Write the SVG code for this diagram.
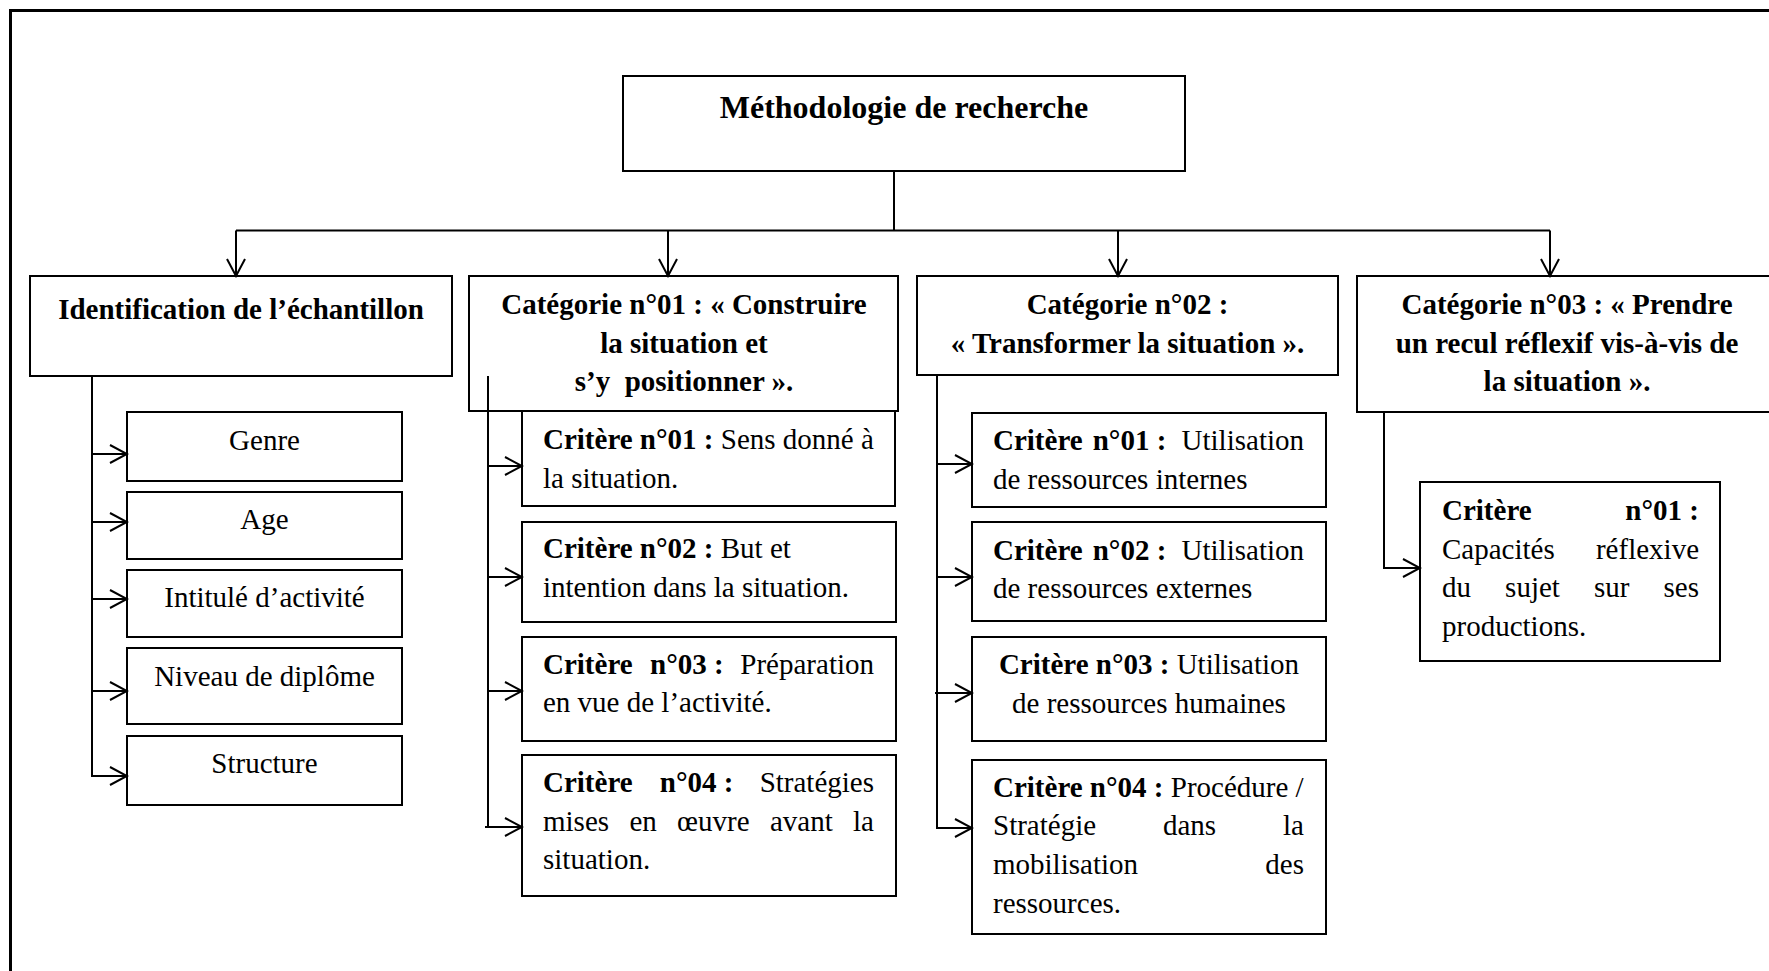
<svg xmlns="http://www.w3.org/2000/svg" width="1769" height="971" viewBox="0 0 1769 971">
  <style>
    .frame { fill: none; stroke: #000; stroke-width: 3; }
    .box { fill: #fff; stroke: #000; stroke-width: 2; }
    .conn { fill: none; stroke: #000; stroke-width: 2; }
    text { font-family: "Liberation Serif", "Times New Roman", serif; font-size: 29px; fill: #000; }
    .b { font-weight: bold; }
    .title { font-size: 32px; font-weight: bold; }
    .mid { text-anchor: middle; }
    .end { text-anchor: end; }
  </style>
  <defs>
    <marker id="arrow" viewBox="0 0 20 20" refX="18" refY="10" markerWidth="20" markerHeight="20" markerUnits="userSpaceOnUse" orient="auto">
      <path d="M1,1 L18,10 L1,19" fill="none" stroke="#000" stroke-width="2"/>
    </marker>
  </defs>

  <rect width="1769" height="971" fill="#fff"/>
  <rect class="frame" x="10.5" y="10.5" width="1800" height="1000"/>

  <!-- root -->
  <g id="methodologie">
    <rect class="box" x="623" y="76" width="562" height="95"/>
    <text class="title mid" x="904" y="118">Méthodologie de recherche</text>
  </g>

  <!-- sample identification -->
  <g id="identification">
    <rect class="box" x="30" y="276" width="422" height="100"/>
    <text class="b mid" x="241" y="319">Identification de l’échantillon</text>
  </g>
  <g id="genre">
    <rect class="box" x="127" y="412" width="275" height="69"/>
    <text class="mid" x="264.5" y="450">Genre</text>
  </g>
  <g id="age">
    <rect class="box" x="127" y="492" width="275" height="67"/>
    <text class="mid" x="264.5" y="529">Age</text>
  </g>
  <g id="intitule">
    <rect class="box" x="127" y="570" width="275" height="67"/>
    <text class="mid" x="264.5" y="607">Intitulé d’activité</text>
  </g>
  <g id="niveau">
    <rect class="box" x="127" y="648" width="275" height="76"/>
    <text class="mid" x="264.5" y="686">Niveau de diplôme</text>
  </g>
  <g id="structure">
    <rect class="box" x="127" y="736" width="275" height="69"/>
    <text class="mid" x="264.5" y="773">Structure</text>
  </g>

  <!-- category 01 -->
  <g id="cat01">
    <rect class="box" x="469" y="276" width="429" height="135"/>
    <text class="b mid" x="684" y="314">Catégorie n°01 : « Construire</text>
    <text class="b mid" x="684" y="353">la situation et</text>
    <text class="b mid" x="684" y="391" xml:space="preserve">s’y  positionner ».</text>
  </g>
  <g id="cat01-crit01">
    <rect class="box" x="522" y="411" width="373" height="95"/>
    <text x="543" y="449"><tspan class="b">Critère n°01 :</tspan> Sens donné à</text>
    <text x="543" y="488">la situation.</text>
  </g>
  <g id="cat01-crit02">
    <rect class="box" x="522" y="522" width="374" height="100"/>
    <text x="543" y="558"><tspan class="b">Critère n°02 :</tspan> But et</text>
    <text x="543" y="597">intention dans la situation.</text>
  </g>
  <g id="cat01-crit03">
    <rect class="box" x="522" y="637" width="374" height="104"/>
    <text class="b" x="543" y="674">Critère</text>
    <text class="b" x="650" y="674">n°03 :</text>
    <text class="end" x="874" y="674">Préparation</text>
    <text x="543" y="712">en vue de l’activité.</text>
  </g>
  <g id="cat01-crit04">
    <rect class="box" x="522" y="755" width="374" height="141"/>
    <text class="b" x="543" y="792">Critère</text>
    <text class="b" x="659.8" y="792">n°04 :</text>
    <text class="end" x="874" y="792">Stratégies</text>
    <text x="543" y="831">mises</text>
    <text x="629.4" y="831">en</text>
    <text x="677.1" y="831">œuvre</text>
    <text x="769.9" y="831">avant</text>
    <text class="end" x="874" y="831">la</text>
    <text x="543" y="869">situation.</text>
  </g>

  <!-- category 02 -->
  <g id="cat02">
    <rect class="box" x="917" y="276" width="421" height="99"/>
    <text class="b mid" x="1127.5" y="314">Catégorie n°02 :</text>
    <text class="b mid" x="1127.5" y="353">« Transformer la situation ».</text>
  </g>
  <g id="cat02-crit01">
    <rect class="box" x="972" y="413" width="354" height="94"/>
    <text class="b" x="993" y="450">Critère</text>
    <text class="b" x="1092.7" y="450">n°01 :</text>
    <text class="end" x="1304" y="450">Utilisation</text>
    <text x="993" y="489">de ressources internes</text>
  </g>
  <g id="cat02-crit02">
    <rect class="box" x="972" y="522" width="354" height="99"/>
    <text class="b" x="993" y="560">Critère</text>
    <text class="b" x="1092.7" y="560">n°02 :</text>
    <text class="end" x="1304" y="560">Utilisation</text>
    <text x="993" y="598">de ressources externes</text>
  </g>
  <g id="cat02-crit03">
    <rect class="box" x="972" y="637" width="354" height="104"/>
    <text class="mid" x="1149" y="674"><tspan class="b">Critère n°03 :</tspan> Utilisation</text>
    <text class="mid" x="1149" y="713">de ressources humaines</text>
  </g>
  <g id="cat02-crit04">
    <rect class="box" x="972" y="760" width="354" height="174"/>
    <text x="993" y="797"><tspan class="b">Critère n°04 :</tspan> Procédure /</text>
    <text x="993" y="835">Stratégie</text>
    <text x="1163" y="835">dans</text>
    <text class="end" x="1304" y="835">la</text>
    <text x="993" y="874">mobilisation</text>
    <text class="end" x="1304" y="874">des</text>
    <text x="993" y="913">ressources.</text>
  </g>

  <!-- category 03 -->
  <g id="cat03">
    <rect class="box" x="1357" y="276" width="440" height="136"/>
    <text class="b mid" x="1567" y="314">Catégorie n°03 : « Prendre</text>
    <text class="b mid" x="1567" y="353">un recul réflexif vis-à-vis de</text>
    <text class="b mid" x="1567" y="391">la situation ».</text>
  </g>
  <g id="cat03-crit01">
    <rect class="box" x="1420" y="482" width="300" height="179"/>
    <text class="b" x="1442" y="520">Critère</text>
    <text class="b end" x="1699" y="520">n°01 :</text>
    <text x="1442" y="559">Capacités</text>
    <text class="end" x="1699" y="559">réflexive</text>
    <text x="1442" y="597">du</text>
    <text x="1505.1" y="597">sujet</text>
    <text x="1594" y="597">sur</text>
    <text class="end" x="1699" y="597">ses</text>
    <text x="1442" y="636">productions.</text>
  </g>

  <!-- connectors -->
  <g id="connectors" class="conn">
    <path d="M894,171 V230.5 M236,230.5 H1550"/>
    <path d="M236,230.5 V276" marker-end="url(#arrow)"/>
    <path d="M668,230.5 V276" marker-end="url(#arrow)"/>
    <path d="M1118,230.5 V276" marker-end="url(#arrow)"/>
    <path d="M1550,230.5 V276" marker-end="url(#arrow)"/>

    <path d="M92,376 V776"/>
    <path d="M91,454 H127" marker-end="url(#arrow)"/>
    <path d="M91,522 H127" marker-end="url(#arrow)"/>
    <path d="M91,599 H127" marker-end="url(#arrow)"/>
    <path d="M91,691 H127" marker-end="url(#arrow)"/>
    <path d="M91,776 H127" marker-end="url(#arrow)"/>

    <path d="M488,376 V827"/>
    <path d="M487,466 H522" marker-end="url(#arrow)"/>
    <path d="M487,577 H522" marker-end="url(#arrow)"/>
    <path d="M487,691 H522" marker-end="url(#arrow)"/>
    <path d="M485,827 H522" marker-end="url(#arrow)"/>

    <path d="M937,375 V828"/>
    <path d="M936,464 H972" marker-end="url(#arrow)"/>
    <path d="M936,577 H972" marker-end="url(#arrow)"/>
    <path d="M935,693 H972" marker-end="url(#arrow)"/>
    <path d="M936,828 H972" marker-end="url(#arrow)"/>

    <path d="M1384,412 V568 H1420" marker-end="url(#arrow)"/>
  </g>
</svg>
